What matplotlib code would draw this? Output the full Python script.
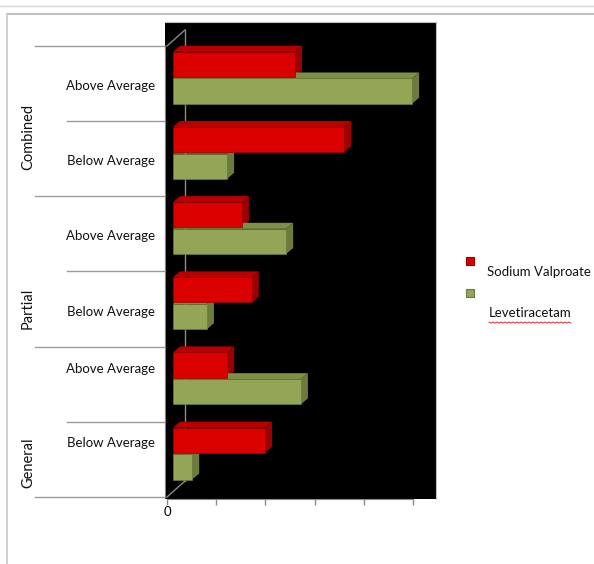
import numpy as np
import matplotlib
matplotlib.use('Agg')
import matplotlib.pyplot as plt
from matplotlib.patches import Polygon

plt.rcParams['font.family'] = ['Lato', 'DejaVu Sans']

# data (bottom row first)
groups = ['General', 'Partial', 'Combined']
levels = ['Below Average', 'Above Average']
series = ['Sodium Valproate', 'Levetiracetam']
valproate = [18.7, 11.0, 16.0, 14.0, 34.8, 24.8]
levetiracetam = [3.9, 26.0, 6.9, 23.0, 11.0, 48.6]
colors = {'front': ['#DA0000', '#93A556'],
          'top': ['#B80000', '#7E8F47'],
          'side': ['#9C0000', '#6C7B3C']}

W, H = 594, 564
fig = plt.figure(figsize=(W / 100, H / 100), dpi=100)

# full-figure overlay in pixel coords for the frame and legend
bg = fig.add_axes([0, 0, 1, 1])
bg.set_xlim(0, W)
bg.set_ylim(H, 0)
bg.axis('off')
bg.plot([0, W], [6, 6], color='#d4d6de', lw=1)
bg.plot([7, W], [14, 14], color='#b4b4b4', lw=1.2)
bg.plot([7, 7], [14, H], color='#c8c8c8', lw=1.2)

# plot area (black)
px_unit = 4.92   # pixels per value unit
row_px = 75.17
ax_l, ax_r, ax_t, ax_b = 165, 436, 22, 499
ax = fig.add_axes([ax_l / W, 1 - ax_b / H, (ax_r - ax_l) / W, (ax_b - ax_t) / H])
ax.set_facecolor('black')
x0 = 173
ax.set_xlim((ax_l - x0) / px_unit, (ax_r - x0) / px_unit)
ax.set_ylim(-(ax_b - 497) / row_px, (497 - ax_t) / row_px)

front = (167 - x0) / px_unit
back = (185 - x0) / px_unit
ddy = 16 / row_px
n = len(valproate)

# floor / wall guides
ax.plot([front, back], [n, n + ddy], color='#8a8a8a', lw=1)
ax.plot([front, back], [0, ddy], color='#8a8a8a', lw=1)
ax.plot([back, back], [ddy, n + ddy], color='#8a8a8a', lw=1)

# 3D-ish bars
h = 0.335
dx = 7 / px_unit
dy = 6 / row_px
rows = np.arange(n)
offsets = [0.755, 0.40]
for k, vals in enumerate([valproate, levetiracetam]):
    centers = rows + offsets[k]
    ax.barh(centers, vals, height=h, left=0, color=colors['front'][k],
            edgecolor=colors['side'][k], linewidth=0.5, zorder=3)
    for c, v in zip(centers, vals):
        top, bot = c + h / 2, c - h / 2
        ax.add_patch(Polygon([(0, top), (v, top), (v + dx, top + dy), (dx, top + dy)],
                             closed=True, facecolor=colors['top'][k], edgecolor='none', zorder=2))
        ax.add_patch(Polygon([(v, bot), (v, top), (v + dx, top + dy), (v + dx, bot + dy)],
                             closed=True, facecolor=colors['side'][k], edgecolor='none', zorder=2))

# value axis: only the 0 label shown
ticks = front + np.arange(6) * 10
ax.set_xticks(ticks)
ax.set_xticklabels(['0', '', '', '', '', ''], fontsize=9.5)
ax.tick_params(axis='x', colors='#8a8a8a', length=4, width=1, pad=1, labelcolor='black')
ax.set_yticks([])
for s in ['top', 'right']:
    ax.spines[s].set_color('#c0c0c0')
    ax.spines[s].set_linewidth(0.8)
ax.spines['bottom'].set_bounds(ticks[0], ticks[-1])
ax.spines['bottom'].set_color('#8a8a8a')
ax.spines['left'].set_color('#808080')
ax.spines['left'].set_bounds(0, n)

# category axis (two levels) drawn to the left
ytr = ax.get_yaxis_transform()
long_x = (35 - ax_l) / (ax_r - ax_l)
short_x = (67 - ax_l) / (ax_r - ax_l)
for r in range(n + 1):
    xs = long_x if r % 2 == 0 else short_x
    ax.plot([xs, 0], [r, r], color='#9a9a9a', lw=1, transform=ytr, clip_on=False)

level_pos = [0.72, 1.70, 2.46, 3.47, 4.47, 5.47]
for r in range(n):
    ax.text(-10 / (ax_r - ax_l), level_pos[r], levels[r % 2], transform=ytr,
            ha='right', va='center', fontsize=9.5, color='#111111')

group_pos = [0.45, 2.51, 4.79]
for g, yp in zip(groups, group_pos):
    ax.text((28 - ax_l) / (ax_r - ax_l), yp, g, transform=ytr, rotation=90,
            ha='center', va='center', fontsize=10.5, color='#111111')

# legend
for k, (my, ty, tx) in enumerate([(261, 272, 487), (293, 313, 489)]):
    bg.scatter([470], [my], marker='s', s=40, color=colors['front'][k],
               edgecolor=colors['side'][k], linewidth=0.8)
    bg.text(tx, ty, series[k], ha='left', va='center', fontsize=9.5, color='#111111')
sx = np.linspace(489, 571, 42)
sy = 322 + 1.2 * (np.arange(42) % 2)
bg.plot(sx, sy, color='#e03030', lw=0.7)

fig.savefig('out.png', dpi=100, facecolor='white')
